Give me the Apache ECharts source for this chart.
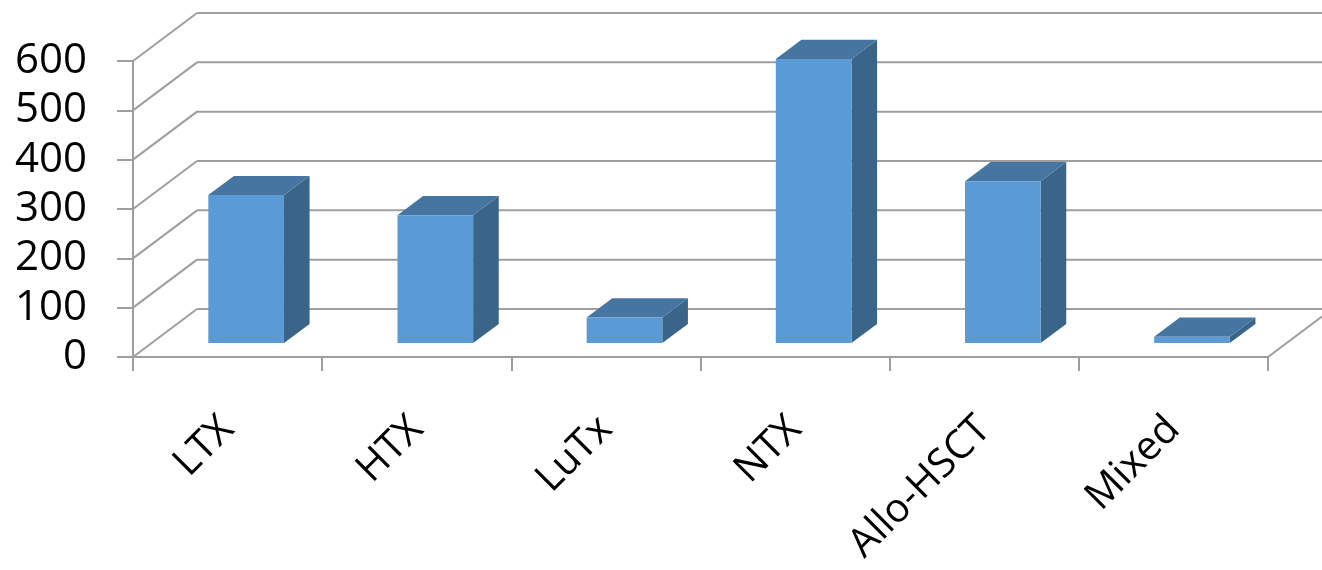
<!DOCTYPE html>
<html>
<head>
<meta charset="utf-8">
<title>Transplant types</title>
<script src="https://cdn.jsdelivr.net/npm/echarts@6/dist/echarts.min.js"></script>
<style>
  html, body { margin: 0; padding: 0; background: #ffffff; }
  #chart { width: 1322px; height: 570px; }
</style>
</head>
<body>
<div id="chart"></div>
<script>
// Categories and counts
const categories = ['LTX', 'HTX', 'LuTx', 'NTX', 'Allo-HSCT', 'Mixed'];
const counts = [300, 259, 52, 576, 328, 13];
const yTicks = [0, 100, 200, 300, 400, 500, 600];

// Oblique depth of the 3D box (pixels) and bar placement along it
const DEPTH_X = 64;
const DEPTH_Y = -48;
const BAR_FRONT = 0.29;   // fraction of depth where the bar's front face sits
const BAR_DEPTH = 0.40;   // fraction of depth the bar occupies
const BAR_WIDTH = 0.40;   // fraction of the category band

const GRID_COLOR = '#9e9e9e';
const FACE_FRONT = '#5b9bd5';
const FACE_TOP = '#4675a1';
const FACE_SIDE = '#3b6489';
const FONT = '"Open Sans", "Noto Sans", sans-serif';

const chart = echarts.init(document.getElementById('chart'), null, { renderer: 'canvas' });

// Side wall diagonals, back wall gridlines and the floor's right edge
function renderWall(params, api) {
  const cs = params.coordSys;
  const v = api.value(1);
  const y = api.coord([0, v])[1];
  const xl = cs.x, xr = cs.x + cs.width;
  const style = { stroke: GRID_COLOR, lineWidth: 2 };
  const children = [
    { type: 'line', shape: { x1: xl, y1: y, x2: xl + DEPTH_X, y2: y + DEPTH_Y }, style },
    { type: 'line', shape: { x1: xl + DEPTH_X, y1: y + DEPTH_Y, x2: xr + DEPTH_X, y2: y + DEPTH_Y }, style }
  ];
  if (v === yTicks[0]) {
    children.push({ type: 'line', shape: { x1: xr, y1: y, x2: xr + DEPTH_X, y2: y + DEPTH_Y }, style });
  }
  return { type: 'group', children };
}

// 3D column: front face, top face and right side face
function renderBar(params, api) {
  const idx = api.value(0);
  const val = api.value(1);
  const base = api.coord([idx, 0]);
  const top = api.coord([idx, val]);
  const band = api.size([1, 0])[0];
  const w = band * BAR_WIDTH;
  const fx = BAR_FRONT * DEPTH_X, fy = BAR_FRONT * DEPTH_Y;
  const bx = BAR_DEPTH * DEPTH_X, by = BAR_DEPTH * DEPTH_Y;
  const xL = base[0] - w / 2 + fx;
  const xR = base[0] + w / 2 + fx;
  const yT = top[1] + fy;
  const yB = base[1] + fy;
  return {
    type: 'group',
    children: [
      { type: 'polygon', shape: { points: [[xR, yT], [xR + bx, yT + by], [xR + bx, yB + by], [xR, yB]] },
        style: { fill: FACE_SIDE } },
      { type: 'polygon', shape: { points: [[xL, yT], [xR, yT], [xR + bx, yT + by], [xL + bx, yT + by]] },
        style: { fill: FACE_TOP } },
      { type: 'rect', shape: { x: xL, y: yT, width: xR - xL, height: yB - yT },
        style: { fill: FACE_FRONT } }
    ]
  };
}

chart.setOption({
  animation: false,
  backgroundColor: '#ffffff',
  grid: { left: 133, right: 54, top: 61, bottom: 213, containLabel: false },
  xAxis: {
    type: 'category',
    data: categories,
    boundaryGap: true,
    axisLine: { show: true, lineStyle: { color: GRID_COLOR, width: 2 } },
    axisTick: { show: true, alignWithLabel: false, length: 14, lineStyle: { color: GRID_COLOR, width: 2 } },
    axisLabel: {
      interval: 0, rotate: 45, margin: 66,
      color: '#000000', fontFamily: FONT, fontSize: 40
    },
    splitLine: { show: false }
  },
  yAxis: {
    type: 'value',
    min: yTicks[0],
    max: yTicks[yTicks.length - 1],
    interval: yTicks[1] - yTicks[0],
    axisLine: { show: true, lineStyle: { color: GRID_COLOR, width: 2 } },
    axisTick: { show: true, length: 16, lineStyle: { color: GRID_COLOR, width: 2 } },
    axisLabel: { margin: 46, color: '#000000', fontFamily: FONT, fontSize: 42 },
    splitLine: { show: false }
  },
  series: [
    {
      type: 'custom',
      renderItem: renderWall,
      clip: false,
      silent: true,
      z: 1,
      data: yTicks.map(t => [0, t])
    },
    {
      type: 'custom',
      renderItem: renderBar,
      clip: false,
      z: 3,
      data: counts.map((v, i) => [i, v])
    }
  ]
});
</script>
</body>
</html>
